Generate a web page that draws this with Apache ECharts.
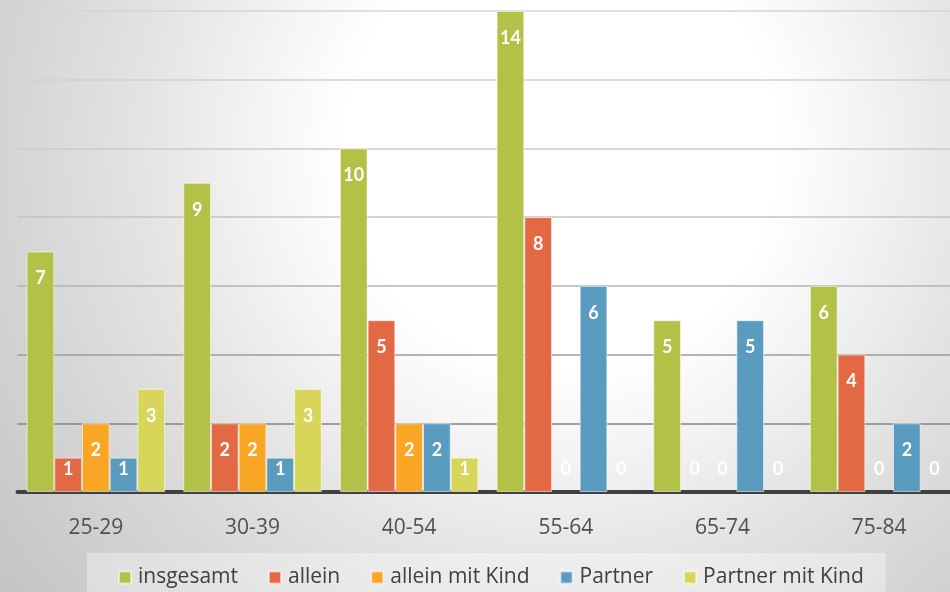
<!DOCTYPE html>
<html>
<head>
<meta charset="utf-8">
<style>
  html, body { margin: 0; padding: 0; }
  #chart { width: 950px; height: 592px; }
</style>
<script src="https://cdn.jsdelivr.net/npm/echarts@6/dist/echarts.min.js"></script>
</head>
<body>
<div id="chart"></div>
<script>
// Age groups
const categories = ['25-29', '30-39', '40-54', '55-64', '65-74', '75-84'];

// Values per living situation
const insgesamt      = [7, 9, 10, 14, 5, 6];
const allein         = [1, 2, 5, 8, 0, 4];
const alleinMitKind  = [2, 2, 2, 0, 0, 0];
const partner        = [1, 1, 2, 6, 5, 2];
const partnerMitKind = [3, 3, 1, 0, 0, 0];

const seriesNames  = ['insgesamt', 'allein', 'allein mit Kind', 'Partner', 'Partner mit Kind'];
const seriesValues = [insgesamt, allein, alleinMitKind, partner, partnerMitKind];
const seriesColors = ['#B3C247', '#E36844', '#F8A624', '#5A9BC0', '#D8D65A'];

// Gridline shades from the baseline upwards
const gridShades = ['#404040', '#858585', '#9c9c9c', '#b3b3b3', '#c3c3c3', '#cbcbcb', '#d0d0d0', '#d5d5d5'];

const chart = echarts.init(document.getElementById('chart'));

// Value labels sit inside the top of the bar; short bars and zeros get adjusted placement
function labelFor(v) {
  if (v === 0) return { position: 'top', distance: 14 };
  if (v === 1) return { position: 'insideTop', distance: 3 };
  return { position: 'insideTop', distance: 18 };
}

const series = seriesNames.map((name, i) => ({
  name: name,
  type: 'bar',
  barWidth: 27.7,
  barGap: '0%',
  itemStyle: {
    color: seriesColors[i],
    borderColor: 'rgba(255,255,255,0.55)',
    borderWidth: 1
  },
  label: {
    show: true,
    color: '#ffffff',
    fontFamily: 'Lato',
    fontWeight: 'bold',
    fontSize: 18
  },
  data: seriesValues[i].map(v => ({
    value: v,
    label: labelFor(v),
    itemStyle: v === 0 ? { borderWidth: 0 } : {}
  }))
}));

chart.setOption({
  animation: false,
  backgroundColor: 'transparent',
  graphic: [{
    type: 'rect',
    z: -100,
    silent: true,
    shape: { x: 0, y: 0, width: 950, height: 592 },
    style: {
      fill: new echarts.graphic.RadialGradient(560, 150, 720, [
        { offset: 0, color: '#ffffff' },
        { offset: 0.3, color: '#ffffff' },
        { offset: 0.43, color: '#f3f3f3' },
        { offset: 0.6, color: '#e2e2e2' },
        { offset: 0.8, color: '#d2d2d2' },
        { offset: 1, color: '#c3c3c3' }
      ], true)
    }
  }],
  grid: {
    left: 17.5,
    top: 11,
    width: 940,
    height: 481,
    containLabel: false,
    outerBoundsMode: 'none'
  },
  legend: {
    left: 87,
    top: 553,
    padding: [14, 22, 20, 31],
    backgroundColor: 'rgba(255,255,255,0.35)',
    itemWidth: 12,
    itemHeight: 12,
    itemGap: 30,
    icon: 'rect',
    textStyle: {
      fontFamily: 'Open Sans',
      fontSize: 21,
      color: '#404040',
      padding: [0, 0, 0, 2]
    },
    data: seriesNames
  },
  xAxis: {
    type: 'category',
    data: categories,
    axisLine: { show: true, lineStyle: { color: '#404040', width: 4 } },
    axisTick: { show: false },
    axisLabel: {
      margin: 26,
      fontFamily: 'Open Sans',
      fontSize: 21,
      color: '#505050'
    }
  },
  yAxis: {
    type: 'value',
    min: 0,
    max: 14,
    interval: 2,
    axisLine: { show: false },
    axisTick: { show: false },
    axisLabel: { show: false },
    splitLine: { show: true, lineStyle: { color: gridShades, width: 1.6 } }
  },
  series: series
});
</script>
</body>
</html>
